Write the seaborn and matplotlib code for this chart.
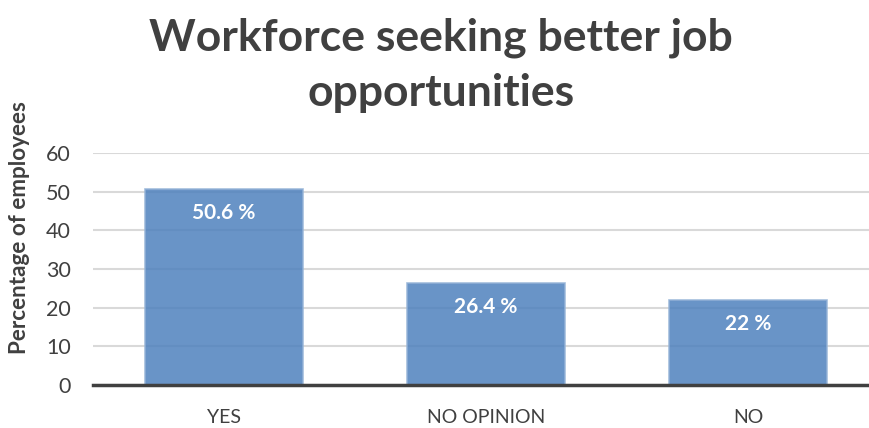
import matplotlib
matplotlib.use("Agg")
import matplotlib.pyplot as plt
import seaborn as sns
import pandas as pd

# Survey results
categories = ["YES", "NO OPINION", "NO"]
percentages = [50.6, 26.4, 22]
value_labels = ["50.6 %", "26.4 %", "22 %"]
y_ticks = [0, 10, 20, 30, 40, 50, 60]

title_text = "Workforce seeking better job\nopportunities"
y_label = "Percentage of employees"

sns.set_theme(style="white")
plt.rcParams["font.family"] = ["Lato", "DejaVu Sans"]

text_color = "#404040"
bar_color = "#4F81BD"

df = pd.DataFrame({"category": categories, "pct": percentages})

fig = plt.figure(figsize=(8.69, 4.28), dpi=100)
ax = fig.add_axes([93 / 869, 43 / 428, 786 / 869, 232 / 428])

sns.barplot(data=df, x="category", y="pct", color=bar_color, width=0.6,
            saturation=1, alpha=0.85, edgecolor="#95B3D7", linewidth=1.2,
            ax=ax, zorder=2)

ax.set_xlim(-0.5, len(categories) - 0.5)
ax.set_ylim(0, 60)
ax.set_yticks(y_ticks)
ax.yaxis.grid(True, color="#D9D9D9", linewidth=1.5, zorder=0)
ax.set_axisbelow(True)

for side in ["top", "right", "left"]:
    ax.spines[side].set_visible(False)
ax.spines["bottom"].set_color(text_color)
ax.spines["bottom"].set_linewidth(2.5)
ax.spines["bottom"].set_zorder(3)

# category boundary ticks on the x axis
ax.set_xticks([i - 0.5 for i in range(len(categories) + 1)], minor=True)
ax.tick_params(axis="x", which="minor", length=6, width=2.5, color=text_color,
               direction="out")
ax.tick_params(axis="x", which="major", length=0, pad=17, labelsize=14,
               labelcolor=text_color)
ax.tick_params(axis="y", length=0, pad=16, labelsize=15.5, labelcolor=text_color)

ax.set_xlabel("")
ax.set_ylabel(y_label, fontsize=16.2, fontweight="bold", color=text_color)
ax.yaxis.set_label_coords(-(93 - 30) / 786, (385 - 228) / 232)

for i, (v, lab) in enumerate(zip(percentages, value_labels)):
    ax.annotate(lab, xy=(i, v), xytext=(0, -17), textcoords="offset points",
                ha="center", va="center", color="white", fontsize=15,
                fontweight="bold", zorder=4)

fig.text(441 / 869, 1 - 65 / 428, title_text, ha="center", va="center",
         fontsize=32, fontweight="bold", color=text_color, linespacing=1.45)

fig.savefig("out.png", dpi=100)
